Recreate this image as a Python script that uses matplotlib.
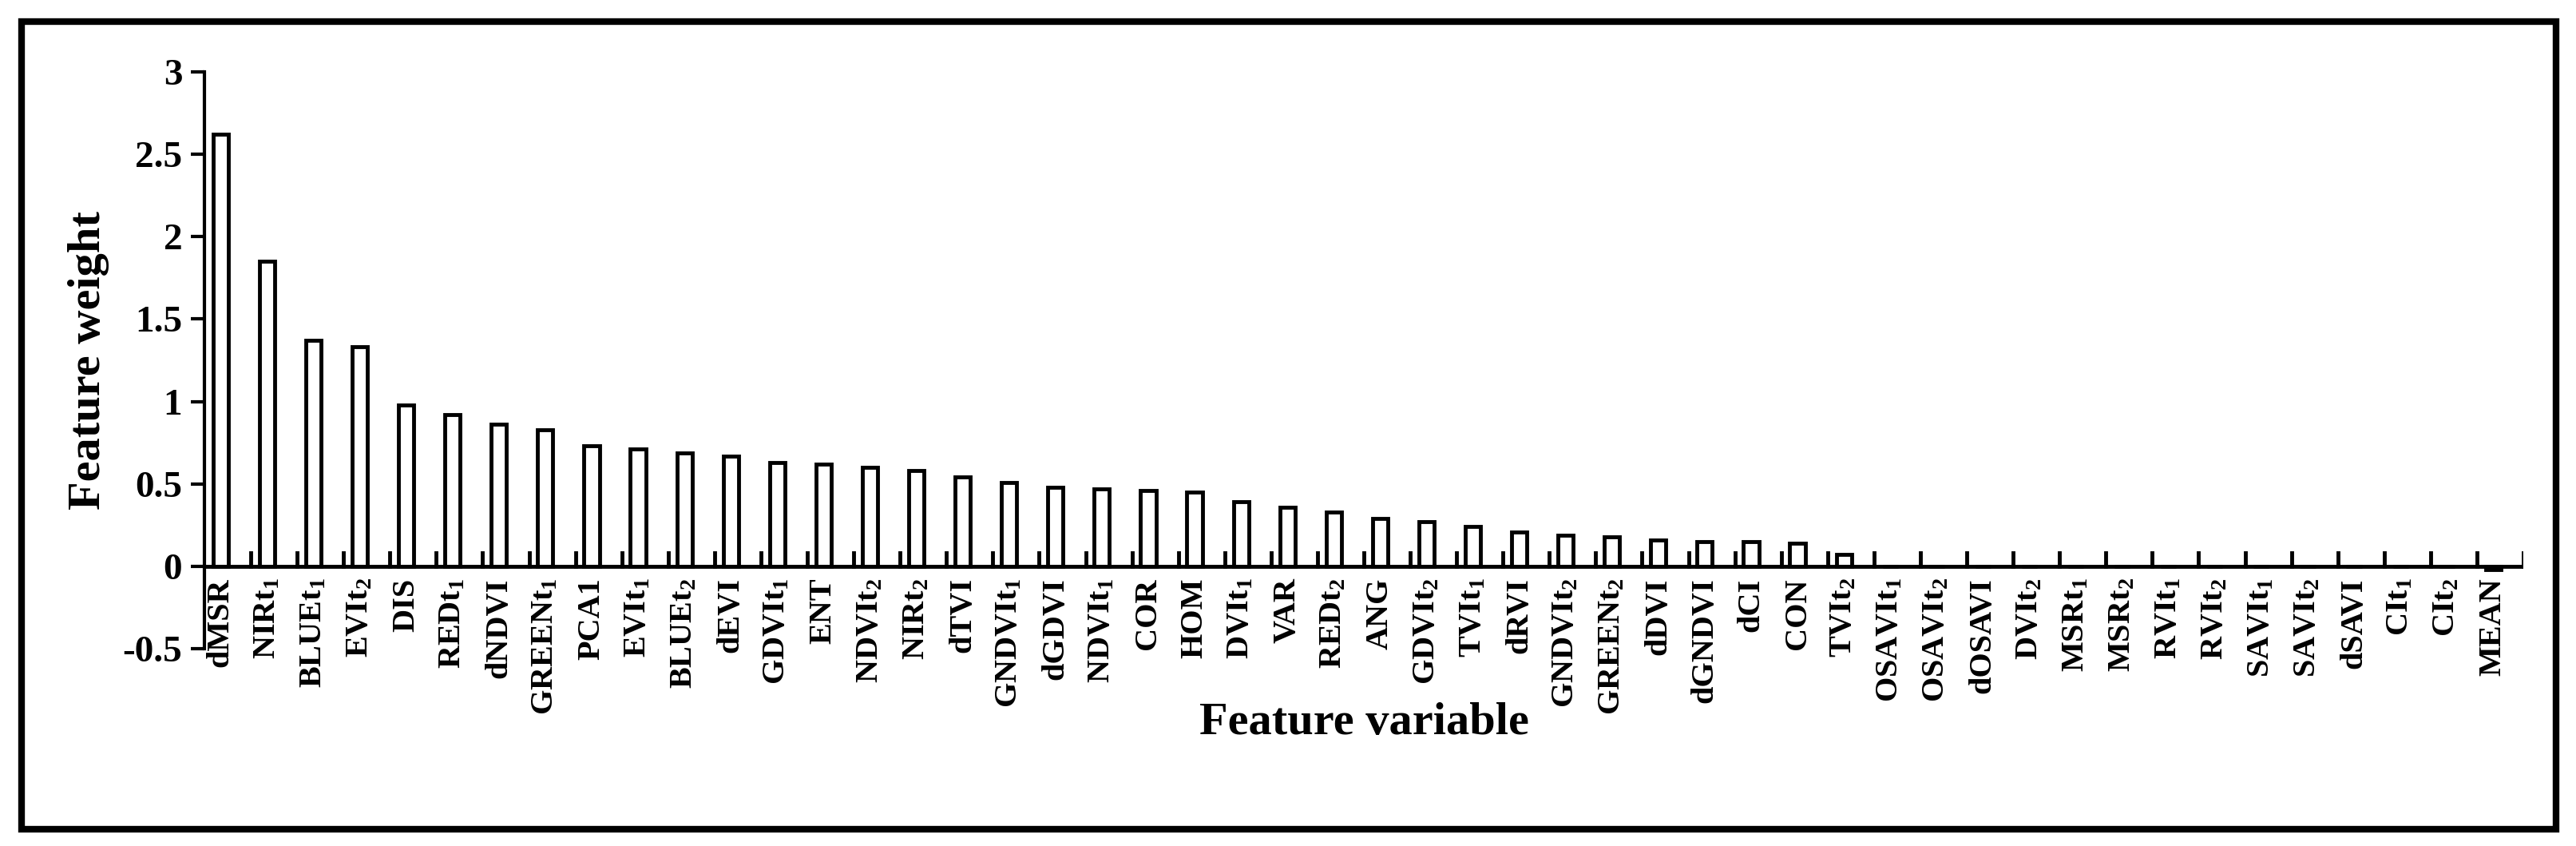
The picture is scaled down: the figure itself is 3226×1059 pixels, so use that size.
import matplotlib
matplotlib.use("Agg")
import matplotlib.pyplot as plt
import numpy as np
from matplotlib.patches import Rectangle

plt.rcParams['font.family'] = 'Liberation Serif'
plt.rcParams['font.weight'] = 'bold'
plt.rcParams['mathtext.fontset'] = 'custom'
plt.rcParams['mathtext.rm'] = 'Liberation Serif:bold'
plt.rcParams['mathtext.it'] = 'Liberation Serif:bold'
plt.rcParams['mathtext.bf'] = 'Liberation Serif:bold'

categories = ["dMSR", "NIRt$_1$", "BLUEt$_1$", "EVIt$_2$", "DIS", "REDt$_1$", "dNDVI", "GREENt$_1$",
              "PCA1", "EVIt$_1$", "BLUEt$_2$", "dEVI", "GDVIt$_1$", "ENT", "NDVIt$_2$", "NIRt$_2$",
              "dTVI", "GNDVIt$_1$", "dGDVI", "NDVIt$_1$", "COR", "HOM", "DVIt$_1$", "VAR", "REDt$_2$",
              "ANG", "GDVIt$_2$", "TVIt$_1$", "dRVI", "GNDVIt$_2$", "GREENt$_2$", "dDVI", "dGNDVI",
              "dCI", "CON", "TVIt$_2$", "OSAVIt$_1$", "OSAVIt$_2$", "dOSAVI", "DVIt$_2$", "MSRt$_1$",
              "MSRt$_2$", "RVIt$_1$", "RVIt$_2$", "SAVIt$_1$", "SAVIt$_2$", "dSAVI", "CIt$_1$", "CIt$_2$", "MEAN"]
weights = [2.62, 1.85, 1.37, 1.33, 0.98, 0.92, 0.86, 0.83, 0.73, 0.71, 0.69, 0.67, 0.63, 0.62,
           0.60, 0.58, 0.54, 0.51, 0.48, 0.47, 0.46, 0.45, 0.39, 0.36, 0.33, 0.29, 0.27, 0.24,
           0.21, 0.19, 0.18, 0.16, 0.15, 0.15, 0.14, 0.07, 0, 0, 0, 0, 0, 0, 0, 0, 0, 0, 0, 0, 0, -0.02]

W, H = 3226, 1059
fig = plt.figure(figsize=(W / 100, H / 100), dpi=100)
left, right, top, bottom = 256, 3160, 90, 812
ax = fig.add_axes([left / W, 1 - bottom / H, (right - left) / W, (bottom - top) / H])
x = np.arange(len(categories))
ax.bar(x - 0.15, weights, width=0.33, facecolor='white', edgecolor='black', linewidth=3.5)
ax.set_xlim(-0.5, len(categories) - 0.5)
ax.set_ylim(-0.5, 3)
ax.set_yticks([-0.5, 0, 0.5, 1, 1.5, 2, 2.5, 3])
ax.set_yticklabels(['-0.5', '0', '0.5', '1', '1.5', '2', '2.5', '3'], fontsize=34, fontweight='bold')
ax.spines['top'].set_visible(False)
ax.spines['right'].set_visible(False)
ax.spines['bottom'].set_visible(False)
ax.spines['left'].set_linewidth(3)
ax.tick_params(axis='y', direction='out', length=12, width=3, pad=8)
ax.axhline(0, color='black', linewidth=3.5)
ax.set_xticks([])
for b in np.arange(0.5, len(categories), 1.0):
    ax.plot([b, b], [0, 0.08], color='black', linewidth=3.5)
for xi, lab in zip(x, categories):
    ax.text(xi - 0.15, -0.07, lab, rotation=90, ha='center', va='top', fontsize=29, fontweight='bold')
ax.set_ylabel('Feature weight', fontsize=42, fontweight='bold', labelpad=12)
fig.text((left + right) / 2 / W, 1 - 905 / H, 'Feature variable', ha='center', va='center',
         fontsize=42, fontweight='bold')
fig.patches.append(Rectangle((27 / W, 1 - 1038 / H), (3201 - 27) / W, (1038 - 27) / H,
                             transform=fig.transFigure, fill=False, edgecolor='black', linewidth=6))
fig.savefig('out.png', dpi=100)
